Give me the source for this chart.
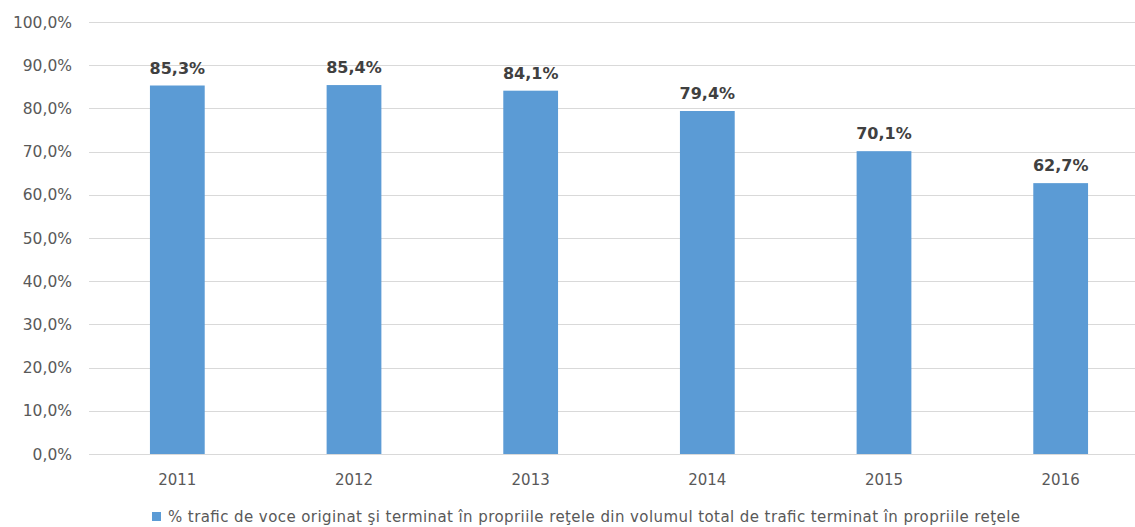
<!DOCTYPE html>
<html>
<head>
<meta charset="utf-8">
<script src="https://cdn.jsdelivr.net/npm/d3@7"></script>
<style>
	body { margin: 0; background: #fff; }
	svg { display: block; font-family: "DejaVu Sans", Verdana, sans-serif; }
</style>
</head>
<body>
<div id="chart"></div>
<script>
var years = ["2011", "2012", "2013", "2014", "2015", "2016"];
var shares = [85.3, 85.4, 84.1, 79.4, 70.1, 62.7];
var yTicks = [0, 10, 20, 30, 40, 50, 60, 70, 80, 90, 100];
var seriesName = "% trafic de voce originat şi terminat în propriile reţele din volumul total de trafic terminat în propriile reţele";

var width = 1135;
var height = 527;
var margin = { top: 22, right: -14, bottom: 73, left: 89 };

function pct(v) {
	return v.toFixed(1).replace(".", ",") + "%";
}

var svg = d3
	.select("#chart")
	.append("svg")
	.attr("width", width)
	.attr("height", height);

var xScale = d3
	.scaleBand()
	.domain(years)
	.range([margin.left, width - margin.right])
	.paddingInner(0.69)
	.paddingOuter(0.345);

var yScale = d3
	.scaleLinear()
	.domain([0, 100])
	.range([height - margin.bottom, margin.top]);

// gridlines
svg.append("g")
	.selectAll("line")
	.data(yTicks)
	.enter()
	.append("line")
	.attr("x1", margin.left)
	.attr("x2", width)
	.attr("y1", (d) => Math.round(yScale(d)) + 0.5)
	.attr("y2", (d) => Math.round(yScale(d)) + 0.5)
	.style("stroke", "#d9d9d9")
	.style("stroke-width", 1);

// y labels
svg.append("g")
	.selectAll("text")
	.data(yTicks)
	.enter()
	.append("text")
	.attr("x", 72)
	.attr("y", (d) => yScale(d))
	.attr("dy", "0.36em")
	.style("text-anchor", "end")
	.style("font-size", "15.5px")
	.style("fill", "#595959")
	.text((d) => pct(d));

// bars
svg.append("g")
	.selectAll("rect")
	.data(shares)
	.enter()
	.append("rect")
	.attr("x", (d, i) => xScale(years[i]))
	.attr("y", (d) => yScale(d))
	.attr("width", xScale.bandwidth())
	.attr("height", (d) => yScale(0) - yScale(d))
	.style("fill", "#5b9bd5");

// value labels
svg.append("g")
	.selectAll("text")
	.data(shares)
	.enter()
	.append("text")
	.attr("x", (d, i) => xScale(years[i]) + xScale.bandwidth() / 2)
	.attr("y", (d) => yScale(d) - 12)
	.style("text-anchor", "middle")
	.style("font-size", "16px")
	.style("font-weight", "bold")
	.style("fill", "#404040")
	.text((d) => pct(d));

// x labels
svg.append("g")
	.selectAll("text")
	.data(years)
	.enter()
	.append("text")
	.attr("x", (d) => xScale(d) + xScale.bandwidth() / 2)
	.attr("y", 485)
	.style("text-anchor", "middle")
	.style("font-size", "15px")
	.style("fill", "#595959")
	.text((d) => d);

// legend
svg.append("rect")
	.attr("x", 152)
	.attr("y", 512)
	.attr("width", 9)
	.attr("height", 9)
	.style("fill", "#5b9bd5");

svg.append("text")
	.attr("x", 168)
	.attr("y", 522)
	.attr("textLength", 852)
	.attr("lengthAdjust", "spacing")
	.style("font-size", "15px")
	.style("fill", "#595959")
	.text(seriesName);
</script>
</body>
</html>
